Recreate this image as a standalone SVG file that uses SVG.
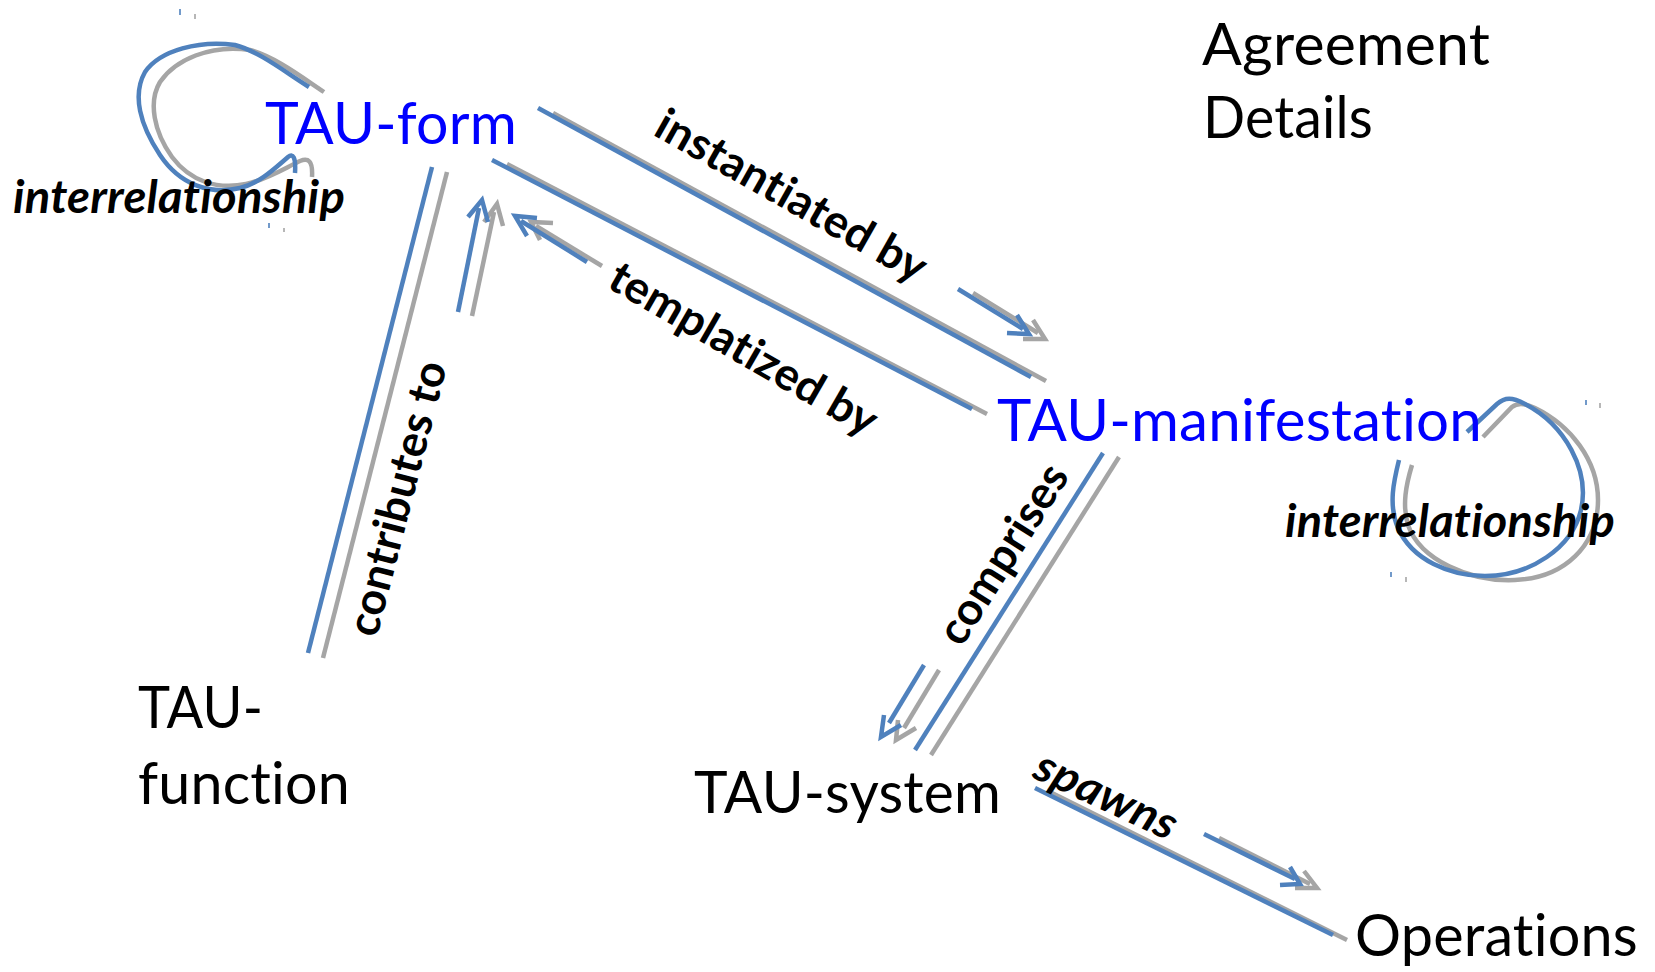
<svg xmlns="http://www.w3.org/2000/svg" width="1655" height="972" viewBox="0 0 1655 972">
<style>
  .bg { fill: #ffffff; }
  text { font-variant-ligatures: none; font-feature-settings: "liga" 0, "clig" 0, "dlig" 0, "calt" 0; letter-spacing: 0.2px; }
  .node { font-family: Lato, "Open Sans", "Liberation Sans", sans-serif; font-size: 58px; fill: #000000; }
  .blue-t { fill: #0000FF; }
  .lbl { font-family: Lato, "Open Sans", "Liberation Sans", sans-serif; font-size: 45px; font-weight: bold; fill: #000000; }
  .it { font-style: italic; }
  .b { fill: none; stroke: #4F81BD; stroke-width: 4.5; stroke-linecap: butt; stroke-linejoin: miter; }
  .g { fill: none; stroke: #A5A5A5; stroke-width: 4.5; stroke-linecap: butt; stroke-linejoin: miter; }
  .bt { fill: none; stroke: #4F81BD; stroke-width: 1.6; }
  .gt { fill: none; stroke: #A5A5A5; stroke-width: 1.6; }
</style>
<rect class="bg" x="0" y="0" width="1655" height="972"/>

<g id="connectors">
  <g id="edge-form-loop">
    <path class="g" d="M324,92 C300,76 275,57 250,50 C210,44 175,60 160,82 C148,102 154,132 172,157 C190,181 217,190 246,184 C266,180 285,168 300,161 C308,158 313,160 312,177"/>
    <path class="b" d="M309,87 C285,72 260,52 235,45 C200,40 160,50 145,72 C132,95 140,125 160,155 C180,185 210,195 240,188 C260,183 275,168 288,157 C293,153 296,157 295,173"/>
    <line class="bt" x1="180" y1="9" x2="180" y2="15"/>
    <line class="gt" x1="195" y1="14" x2="195" y2="19"/>
    <line class="bt" x1="269" y1="223" x2="269" y2="228"/>
    <line class="gt" x1="284" y1="228" x2="284" y2="232"/>
    <text class="lbl it" x="13" y="213" textLength="332" lengthAdjust="spacingAndGlyphs">interrelationship</text>
  </g>

  <g id="edge-instantiated">
    <line class="g" x1="553" y1="113" x2="1046" y2="381"/>
    <line class="b" x1="538" y1="108" x2="1031" y2="377"/>
    <line class="g" x1="973" y1="293" x2="1038" y2="333"/>
    <polyline class="g" points="1033,320 1045,339 1023,339"/>
    <line class="b" x1="958" y1="289" x2="1023" y2="329"/>
    <polyline class="b" points="1017,315 1029,334 1007,333"/>
    <text class="lbl" x="784" y="209" text-anchor="middle" transform="rotate(29.5 784 209)" textLength="304" lengthAdjust="spacingAndGlyphs">instantiated by</text>
  </g>

  <g id="edge-templatized">
    <line class="g" x1="507" y1="164" x2="987" y2="414"/>
    <line class="b" x1="492" y1="160" x2="972" y2="409"/>
    <line class="g" x1="602" y1="266" x2="536" y2="226"/>
    <polyline class="g" points="553,223 531,222 540,240"/>
    <line class="b" x1="587" y1="262" x2="521" y2="221"/>
    <polyline class="b" points="537,218 515,216 527,236"/>
    <text class="lbl" x="736" y="362" text-anchor="middle" transform="rotate(30 736 362)" textLength="302" lengthAdjust="spacingAndGlyphs">templatized by</text>
  </g>

  <g id="edge-contributes">
    <line class="g" x1="447" y1="172" x2="323" y2="658"/>
    <line class="b" x1="432" y1="167" x2="308" y2="653"/>
    <line class="g" x1="472" y1="316" x2="494" y2="212"/>
    <polyline class="g" points="484,222 497,204 503,226"/>
    <line class="b" x1="458" y1="312" x2="479" y2="208"/>
    <polyline class="b" points="468,217 482,200 488,222"/>
    <text class="lbl" x="412" y="502" text-anchor="middle" transform="rotate(-75.5 412 502)" textLength="282" lengthAdjust="spacingAndGlyphs">contributes to</text>
  </g>

  <g id="edge-manifestation-loop">
    <path class="g" d="M1412,465 C1406,485 1402,505 1408,525 C1420,560 1470,582 1515,580 C1565,578 1598,545 1598,500 C1598,460 1570,425 1535,408 C1525,403 1518,402 1512,407 L1483,437"/>
    <path class="b" d="M1399,460 C1394,480 1388,505 1398,528 C1412,560 1450,576 1485,576 C1530,576 1572,548 1581,510 C1590,470 1565,425 1525,404 C1512,397 1505,397 1497,404 L1467,432"/>
    <line class="bt" x1="1586" y1="400" x2="1586" y2="405"/>
    <line class="gt" x1="1600" y1="403" x2="1600" y2="408"/>
    <line class="bt" x1="1391" y1="572" x2="1391" y2="577"/>
    <line class="gt" x1="1406" y1="577" x2="1406" y2="582"/>
    <text class="lbl it" x="1285" y="537" textLength="330" lengthAdjust="spacingAndGlyphs">interrelationship</text>
  </g>

  <g id="edge-comprises">
    <line class="g" x1="1119" y1="457" x2="931" y2="755"/>
    <line class="b" x1="1103" y1="453" x2="915" y2="750"/>
    <line class="g" x1="939" y1="670" x2="904" y2="728"/>
    <polyline class="g" points="898,720 896,740 916,728"/>
    <line class="b" x1="924" y1="665" x2="889" y2="723"/>
    <polyline class="b" points="884,715 881,737 901,725"/>
    <text class="lbl" x="1016" y="562" text-anchor="middle" transform="rotate(-57.7 1016 562)" textLength="204" lengthAdjust="spacingAndGlyphs">comprises</text>
  </g>

  <g id="edge-spawns">
    <line class="g" x1="1052" y1="793" x2="1347" y2="940"/>
    <line class="b" x1="1035" y1="788" x2="1333" y2="935"/>
    <line class="g" x1="1219" y1="838" x2="1310" y2="884"/>
    <polyline class="g" points="1304,871 1317,888 1295,888"/>
    <line class="b" x1="1204" y1="834" x2="1295" y2="879"/>
    <polyline class="b" points="1290,867 1300,884 1280,885"/>
    <text class="lbl it" x="1100" y="809" text-anchor="middle" transform="rotate(25 1100 809)" textLength="152" lengthAdjust="spacingAndGlyphs">spawns</text>
  </g>
</g>

<g id="node-agreement-details">
  <text class="node" x="1202" y="65" textLength="288" lengthAdjust="spacingAndGlyphs">Agreement</text>
  <text class="node" x="1203" y="138" textLength="170" lengthAdjust="spacingAndGlyphs">Details</text>
</g>
<g id="node-tau-form">
  <text class="node blue-t" x="265" y="144" textLength="252" lengthAdjust="spacingAndGlyphs">TAU-form</text>
</g>
<g id="node-tau-manifestation">
  <text class="node blue-t" x="997" y="441" textLength="485" lengthAdjust="spacingAndGlyphs">TAU-manifestation</text>
</g>
<g id="node-tau-function">
  <text class="node" x="138" y="728" textLength="125" lengthAdjust="spacingAndGlyphs">TAU-</text>
  <text class="node" x="138" y="804" textLength="212" lengthAdjust="spacingAndGlyphs">function</text>
</g>
<g id="node-tau-system">
  <text class="node" x="694" y="813" textLength="307" lengthAdjust="spacingAndGlyphs">TAU-system</text>
</g>
<g id="node-operations">
  <text class="node" x="1355" y="956" textLength="283" lengthAdjust="spacingAndGlyphs">Operations</text>
</g>
</svg>
